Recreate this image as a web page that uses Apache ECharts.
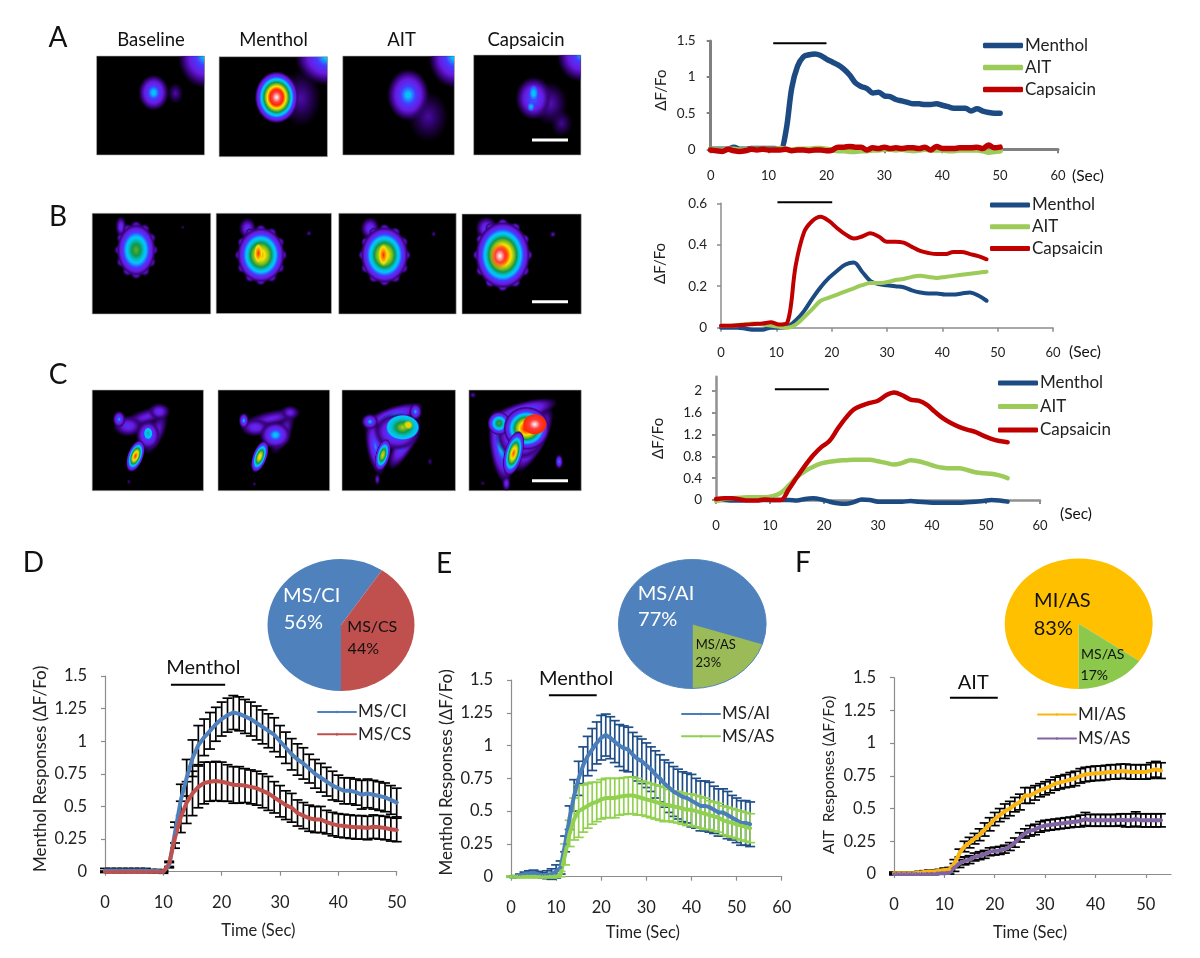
<!DOCTYPE html>
<html><head><meta charset="utf-8">
<style>html,body{margin:0;padding:0;background:#fff}#c{width:1200px;height:958px}</style>
<script src="https://cdn.jsdelivr.net/npm/echarts@6/dist/echarts.min.js"></script>
</head><body><div id="c"></div>
<script>
// ---------- panel A ----------
const aTimes=[0,1,2,3,4,5,6,7,8,9,10,11,12,13,14,15,16,17,18,19,20,21,22,23,24,25,26,27,28,29,30,31,32,33,34,35,36,37,38,39,40,41,42,43,44,45,46,47,48,49,50];
const aMenthol=[0,0,0,0,.03,0,0,.01,.01,.01,.01,.01,0,.25,.85,1.15,1.28,1.31,1.32,1.3,1.25,1.21,1.17,1.11,1.03,.92,.87,.84,.78,.79,.74,.73,.69,.67,.65,.63,.63,.62,.62,.63,.61,.59,.57,.57,.57,.53,.56,.53,.51,.5,.5];
const aAit=[0,-.01,-.01,0,0,-.01,-.01,0,0,0,0,0,.01,0,-.01,0,0,0,.01,.01,0,-.01,-.02,-.02,-.03,-.03,-.02,-.02,-.01,-.01,0,0,-.01,0,-.01,-.02,-.01,0,-.01,-.01,-.01,-.02,-.02,-.01,-.01,-.01,-.01,-.02,-.04,-.03,-.02];
const aCaps=[-.01,-.02,-.03,0,-.02,-.03,-.02,0,-.01,0,-.01,-.01,-.01,0,-.02,-.01,-.01,-.02,-.01,-.01,-.02,-.01,.03,.03,.04,.03,.03,-.01,.02,.01,.03,.01,.02,.01,.02,.02,.01,.03,-.01,.04,.01,.01,.01,.02,.02,.02,.03,.01,.06,.02,.03];
// ---------- panel B ----------
const bTimes=[0,1.5,3,4.5,6,7.5,9,10.5,12,13.5,15,16.5,18,19.5,21,22.5,24,25.5,27,28.5,30,31.5,33,34.5,36,37.5,39,40.5,42,43.5,45,46.5,48];
const bMenthol=[0,0,0,-.005,-.01,-.01,0,0,.005,.035,.08,.14,.195,.24,.275,.305,.315,.27,.225,.21,.205,.2,.195,.18,.17,.165,.165,.16,.16,.165,.17,.155,.13];
const bAit=[.01,.01,.012,.018,.02,.015,.01,.005,0,.015,.05,.09,.13,.145,.16,.175,.19,.205,.215,.215,.22,.23,.235,.245,.25,.245,.24,.245,.25,.255,.26,.265,.27];
const bCaps=[.01,.01,.012,.014,.018,.02,.026,.015,.025,.3,.46,.515,.535,.515,.48,.45,.43,.44,.455,.44,.415,.415,.41,.39,.37,.36,.355,.355,.365,.365,.355,.345,.33];
// ---------- panel C ----------
const cTimes=[0,1.5,3,4.5,6,7.5,9,10.5,12,13.5,15,16.5,18,19.5,21,22.5,24,25.5,27,28.5,30,31.5,33,34.5,36,37.5,39,40.5,42,43.5,45,46.5,48,49.5,51,52.5,54];
const cMenthol=[0,0,-.01,-.01,0,0,0,0,0,0,-.01,.02,.03,.01,-.03,-.06,-.07,-.04,.01,0,-.03,-.03,-.03,-.03,-.02,-.03,-.04,-.05,-.05,-.05,-.05,-.04,-.03,-.02,0,-.01,-.03];
const cAit=[-.02,.02,.03,.04,.05,.05,.05,.07,.13,.27,.42,.53,.61,.67,.7,.72,.73,.74,.74,.74,.71,.68,.65,.68,.73,.71,.67,.62,.59,.58,.58,.55,.51,.49,.48,.45,.4];
const cCaps=[.02,.03,.03,.01,-.01,-.01,.01,0,0,.2,.42,.63,.82,.97,1.08,1.3,1.5,1.66,1.73,1.78,1.82,1.92,1.97,1.92,1.84,1.82,1.75,1.62,1.5,1.41,1.34,1.29,1.25,1.18,1.12,1.08,1.06];
// ---------- panel D ----------
const dCi=[.01,.01,.01,.01,.01,.01,.01,.01,.005,.005,0,.05,.3,.55,.72,.87,.97,1.03,1.08,1.13,1.17,1.2,1.22,1.21,1.19,1.17,1.14,1.11,1.08,1.05,1,.95,.9,.86,.83,.79,.75,.72,.69,.66,.64,.62,.62,.61,.59,.6,.59,.58,.57,.55,.53];
const dCiErr=[.015,.015,.015,.015,.015,.015,.015,.015,.012,.012,.012,.02,.08,.12,.14,.14,.15,.14,.14,.13,.13,.13,.13,.13,.13,.13,.13,.13,.13,.13,.12,.12,.12,.12,.12,.11,.11,.11,.11,.11,.1,.1,.1,.1,.11,.11,.11,.11,.11,.11,.11];
const dCs=[0,0,0,0,0,0,0,0,0,0,0,.06,.26,.42,.53,.6,.65,.68,.69,.695,.69,.68,.665,.665,.66,.65,.64,.62,.6,.57,.54,.51,.49,.45,.43,.41,.4,.4,.38,.365,.355,.35,.345,.34,.34,.335,.345,.34,.335,.325,.32];
const dCsErr=[.005,.005,.005,.005,.005,.005,.005,.005,.005,.005,.005,.02,.08,.12,.16,.17,.16,.16,.15,.15,.15,.14,.14,.14,.13,.13,.13,.13,.13,.12,.12,.11,.11,.1,.1,.1,.1,.1,.09,.09,.09,.09,.09,.09,.09,.09,.09,.09,.09,.09,.09];
// ---------- panel E ----------
const eAi=[0,0,.01,.02,.025,.03,.02,.01,.015,.02,.04,.07,.25,.45,.62,.75,.85,.92,.97,1.02,1.06,1.08,1.06,1.03,1,.98,.97,.93,.9,.88,.85,.82,.78,.75,.71,.68,.65,.63,.61,.6,.58,.56,.54,.54,.53,.51,.49,.49,.47,.45,.43,.41,.41,.4];
const eAiErr=[0,.005,.01,.015,.02,.02,.02,.02,.03,.04,.05,.05,.06,.09,.12,.13,.14,.15,.16,.16,.17,.16,.16,.16,.16,.17,.17,.17,.17,.17,.17,.17,.18,.18,.18,.19,.19,.19,.19,.19,.2,.19,.19,.19,.19,.18,.18,.18,.18,.17,.17,.17,.17,.17];
const eAs=[0,0,0,0,0,0,0,0,0,0,0,.02,.17,.33,.44,.5,.52,.54,.56,.57,.59,.6,.6,.6,.61,.615,.62,.62,.61,.6,.59,.58,.57,.56,.55,.545,.535,.53,.52,.51,.51,.5,.49,.48,.47,.46,.45,.43,.42,.41,.4,.39,.38,.37];
const eAsErr=[.005,.005,.005,.005,.005,.005,.005,.005,.005,.005,.005,.02,.08,.1,.16,.2,.18,.17,.16,.15,.15,.15,.15,.15,.14,.14,.14,.14,.14,.13,.13,.13,.13,.13,.13,.12,.12,.12,.12,.12,.12,.12,.12,.12,.11,.11,.11,.11,.11,.11,.11,.11,.11,.11];
// ---------- panel F ----------
const fMi=[.005,.005,.005,.005,.005,.01,.015,.02,.02,.025,.03,.035,.08,.16,.21,.24,.27,.3,.34,.38,.42,.45,.48,.5,.53,.55,.6,.6,.62,.64,.655,.67,.69,.7,.71,.72,.73,.75,.76,.765,.77,.77,.775,.78,.78,.785,.785,.78,.78,.78,.78,.79,.8,.79];
const fMiErr=[.01,.01,.01,.01,.01,.01,.01,.01,.01,.01,.015,.015,.03,.03,.04,.04,.04,.045,.05,.05,.05,.05,.055,.055,.055,.06,.06,.06,.055,.05,.05,.05,.05,.05,.05,.055,.055,.055,.055,.055,.055,.055,.055,.055,.055,.055,.055,.055,.055,.055,.055,.06,.06,.06];
const fMs=[0,0,0,0,0,0,0,0,0,.005,.005,.01,.05,.08,.1,.11,.13,.14,.15,.17,.175,.18,.19,.21,.24,.28,.31,.33,.34,.36,.37,.375,.38,.385,.39,.395,.4,.405,.42,.41,.41,.41,.41,.41,.41,.415,.41,.41,.42,.41,.41,.41,.41,.41];
const fMsErr=[.005,.005,.005,.005,.005,.005,.005,.005,.005,.005,.005,.01,.03,.03,.03,.03,.03,.03,.03,.03,.03,.03,.03,.03,.035,.035,.035,.04,.04,.04,.04,.04,.04,.04,.04,.04,.04,.045,.05,.045,.045,.045,.045,.045,.045,.045,.05,.05,.055,.05,.05,.05,.05,.05];
// ---------- pies: slice shares as drawn in the picture (printed labels are kept as text) ----------
const dPie=[59.4,40.6], ePie=[80,20], fPie=[84.7,15.3];
// ---------- stimulus bars [from,to,level] ----------
const stimA=[10.8,20,1.468], stimB=[10.2,20.1,.605], stimC=[10.9,20.9,2.03], stimD=[11.3,20.6,1.433], stimE=[8.4,19,1.383], stimF=[11.1,20.6,1.347];

const FONT='Lato';
const seq=n=>Array.from({length:n},(_,i)=>i);
const zip=(t,v)=>v.map((y,i)=>[t[i],y]);

const grids=[],xAxes=[],yAxes=[],series=[],legends=[];
function panel(o){
  const i=grids.length;
  grids.push({left:o.l,top:o.t,width:o.r-o.l,height:o.b-o.t,containLabel:false});
  const big=o.big;
  const line={show:true,onZero:false,lineStyle:{color:o.axisColor||'#8c8c8c',width:o.axisW||1.2}};
  const tick={show:true,length:4,lineStyle:{color:o.axisColor||'#8c8c8c',width:o.axisW?Math.min(o.axisW,2):1.2}};
  const x={gridIndex:i,type:'value',min:0,max:o.xMax,interval:10,axisLine:line,splitLine:{show:false},
    axisTick:Object.assign({},tick,o.xVals?{customValues:o.xVals}:{}),
    axisLabel:Object.assign({fontFamily:FONT,fontSize:big?16.5:13,color:'#222',margin:o.xMargin},o.xVals?{customValues:o.xVals}:{})};
  if(o.xName){Object.assign(x,{name:o.xName,nameLocation:'middle',nameGap:o.xGap,nameTextStyle:{fontFamily:FONT,fontSize:16.5,color:'#222',padding:o.xPad}});}
  const y={gridIndex:i,type:'value',min:0,max:o.yMax,interval:o.yInt,axisLine:line,splitLine:{show:false},
    axisTick:Object.assign({},tick,o.yVals?{customValues:o.yVals}:{}),
    axisLabel:Object.assign({fontFamily:FONT,fontSize:big?16.5:13.5,color:'#222',margin:o.yMargin},o.yVals?{customValues:o.yVals}:{}),
    name:o.yName,nameLocation:'middle',nameGap:o.yGap,nameTextStyle:{fontFamily:FONT,fontSize:o.ySize||15,color:'#222',padding:o.yPad}};
  xAxes.push(x);yAxes.push(y);
  return i;
}
function addLine(i,name,t,v,color,w,sym){
  series.push({type:'line',name,xAxisIndex:i,yAxisIndex:i,data:zip(t,v),smooth:sym?false:.35,clip:false,
    symbol:sym?'diamond':'none',symbolSize:sym?4:0,showSymbol:!!sym,
    lineStyle:{color,width:w,cap:'round',join:'round'},itemStyle:{color},z:4,silent:true});
}
function addStim(i,s){
  series.push({type:'line',xAxisIndex:i,yAxisIndex:i,data:[[s[0],s[2]],[s[1],s[2]]],symbol:'none',clip:false,silent:true,
    lineStyle:{color:'#000',width:2},z:5});
}
function addErr(i,t,v,e,color){
  series.push({type:'custom',xAxisIndex:i,yAxisIndex:i,clip:false,silent:true,z:3,
    data:v.map((y,k)=>[t[k],y-e[k],y+e[k]]),encode:{x:0,y:[1,2]},
    renderItem(p,api){
      const lo=api.coord([api.value(0),api.value(1)]),hi=api.coord([api.value(0),api.value(2)]),c=5;
      const st={stroke:color,lineWidth:1.7,fill:null};
      return {type:'group',children:[
        {type:'line',shape:{x1:lo[0],y1:lo[1],x2:hi[0],y2:hi[1]},style:st},
        {type:'line',shape:{x1:lo[0]-c,y1:lo[1],x2:lo[0]+c,y2:lo[1]},style:st},
        {type:'line',shape:{x1:hi[0]-c,y1:hi[1],x2:hi[0]+c,y2:hi[1]},style:st}]};
    }});
}
function addLegend(left,top,w,gap,names,cols,h){
  legends.push({left,top,padding:0,orient:'vertical',itemWidth:w,itemHeight:h,itemGap:gap,selectedMode:false,icon:h>=5?'roundRect':undefined,
    textStyle:{fontFamily:FONT,fontSize:17,color:'#222',padding:[0,0,0,-3]},
    data:names.map((n,k)=>({name:n,itemStyle:{color:cols[k]},lineStyle:{color:cols[k]}}))});
}
function addPie(cx,cy,rx,ry,vals,cols,edge){
  const total=vals.reduce((a,b)=>a+b,0);
  series.push({type:'custom',coordinateSystem:'none',silent:true,z:2,data:vals.map(v=>[v]),
    renderItem(p,api){
      let acc=0;for(let k=0;k<p.dataIndex;k++)acc+=vals[k];
      const a0=Math.PI/2+acc/total*2*Math.PI,a1=a0+api.value(0)/total*2*Math.PI;
      return {type:'sector',x:cx,y:cy,scaleX:1,scaleY:ry/rx,
        shape:{cx:0,cy:0,r:rx,r0:0,startAngle:a0,endAngle:a1,clockwise:true},
        style:{fill:cols[p.dataIndex],stroke:edge||null,lineWidth:edge?1:0}};
    }});
}

const BLUE='#1c4a82',GRN='#9ccb5a',RED='#c00000',TRIO=['Menthol','AIT','Capsaicin'],TC=[BLUE,GRN,RED];
// A
let g=panel({l:710.7,r:1058,t:41,b:149.3,xMax:60,yMax:1.5,yInt:.5,axisW:3,axisColor:'#808080',xMargin:20,yMargin:15,yName:'ΔF/Fo',yGap:42,yPad:[0,0,0,10]});
addLine(g,'Menthol',aTimes,aMenthol,BLUE,5.5);addLine(g,'AIT',aTimes,aAit,GRN,5.5);addLine(g,'Capsaicin',aTimes,aCaps,RED,5.5);addStim(g,stimA);
addLegend(983,37,40,5,TRIO,TC,5.5);
// B
g=panel({l:721,r:1053,t:203.3,b:327.7,xMax:60,yMax:.6,yInt:.2,axisW:1.5,axisColor:'#8c8c8c',xMargin:19,yMargin:14,yName:'ΔF/Fo',yGap:53,yPad:[0,0,0,4]});
addLine(g,'Menthol',bTimes,bMenthol,BLUE,4);addLine(g,'AIT',bTimes,bAit,GRN,4);addLine(g,'Capsaicin',bTimes,bCaps,RED,4);addStim(g,stimB);
addLegend(990,196.5,40,4.7,TRIO,TC,5);
// C
g=panel({l:716,r:1040,t:376.7,b:500,xMax:60,yMax:2.26,yInt:.4,yVals:[0,.4,.8,1.2,1.6,2],axisW:2.5,axisColor:'#909090',xMargin:19,yMargin:14,yName:'ΔF/Fo',yGap:50});
addLine(g,'Menthol',cTimes,cMenthol,BLUE,4.5);addLine(g,'AIT',cTimes,cAit,GRN,4.5);addLine(g,'Capsaicin',cTimes,cCaps,RED,4.5);addStim(g,stimC);
addLegend(998,374.5,40,6.5,TRIO,TC,5);
// D
g=panel({big:1,l:105,r:396.7,t:676,b:871.7,xMax:50,yMax:1.5,yInt:.25,xMargin:22,yMargin:18,xName:'Time (Sec)',xGap:50,xPad:[0,0,0,15],yName:'Menthol Responses (ΔF/Fo)',ySize:17,yGap:56,yPad:[0,0,0,10]});
const t51=seq(51),t54=seq(54);
addErr(g,t51,dCi,dCiErr,'#000');addErr(g,t51,dCs,dCsErr,'#000');
addLine(g,'MS/CI',t51,dCi,'#4f81bd',4,1);addLine(g,'MS/CS',t51,dCs,'#c0504d',4,1);addStim(g,stimD);
addLegend(317,703.5,38,5.3,['MS/CI','MS/CS'],['#4f81bd','#c0504d'],4);
// E
g=panel({big:1,l:511,r:781.7,t:680,b:876.7,xMax:60,yMax:1.5,yInt:.25,xMargin:22,yMargin:18,xName:'Time (Sec)',xGap:47,xPad:[0,7,0,0],yName:'Menthol Responses (ΔF/Fo)',ySize:17,yGap:56,yPad:[0,0,0,12]});
addErr(g,t54,eAi,eAiErr,'#1f4e87');addErr(g,t54,eAs,eAsErr,'#92d050');
addLine(g,'MS/AI',t54,eAi,'#4a7ebb',4,1);addLine(g,'MS/AS',t54,eAs,'#92d050',4,1);addStim(g,stimE);
addLegend(681,705.5,38,5.3,['MS/AI','MS/AS'],['#4a7ebb','#92d050'],4);
// F
g=panel({big:1,l:894,r:1171,t:677.7,b:874,xMax:55,yMax:1.5,yInt:.25,xVals:[0,10,20,30,40,50],xMargin:22,yMargin:18,xName:'Time (Sec)',xGap:50,xPad:[0,5,0,0],yName:'AIT  Responses (ΔF/Fo)',ySize:15.5,yGap:57,yPad:[0,0,0,2]});
addErr(g,t54,fMi,fMiErr,'#000');addErr(g,t54,fMs,fMsErr,'#000');
addLine(g,'MI/AS',t54,fMi,'#fbb512',4,1);addLine(g,'MS/AS',t54,fMs,'#8064a2',4,1);addStim(g,stimF);
addLegend(1037,706,38,7,['MI/AS','MS/AS'],['#fbb512','#8064a2'],4);
// pies
addPie(341,625,73.5,66,dPie,['#4f81bd','#c0504d']);
addPie(692.3,624,73.8,64.5,ePie,['#4f81bd','#9bbb59'],'#4f81bd');
addPie(1078.7,623.7,74,65.3,fPie,['#ffc000','#8bc84b']);

// ---------- graphic: text annotations and fluorescence micrographs ----------
const gfx=[];
function txt(s,x,y,size,color){gfx.push({type:'text',x,y,z:20,silent:true,style:{text:s,fontFamily:FONT,fontSize:size,fill:color||'#111',align:'center',verticalAlign:'middle'}});}
[['A',58,38],['B',58,216.7],['C',58,375],['D',33.3,563],['E',444,564],['F',803,563]].forEach(a=>txt(a[0],a[1],a[2],28,'#111'));
[['Baseline',151,40],['Menthol',273.6,40],['AIT',401.6,40],['Capsaicin',526,40]].forEach(a=>txt(a[0],a[1],a[2],18.5));
txt('(Sec)',1088,176,15.5);txt('(Sec)',1085,352,15.5);txt('(Sec)',1076,514,15.5);
txt('Menthol',203.3,667.3,20);txt('Menthol',576,678.3,20);txt('AIT',973.3,682.7,20);
txt('MS/CI',311.7,596,20,'#fff');txt('56%',303.3,622.7,20,'#fff');txt('MS/CS',372.3,627.3,16);txt('44%',363.3,649.3,16);
txt('MS/AI',666,593.3,20,'#fff');txt('77%',657.7,620,20,'#fff');txt('MS/AS',715.7,645,13);txt('23%',708.3,663.3,13);
txt('MI/AS',1062.3,601,20);txt('83%',1053.3,628.3,20);txt('MS/AS',1102.7,654.3,14);txt('17%',1094.3,675,14);

const LUT=[[0,[50,0,110]],[.1,[55,5,125]],[.2,[105,25,225]],[.33,[70,60,255]],[.45,[0,200,255]],[.52,[0,190,210]],[.6,[20,150,70]],[.68,[130,190,30]],[.76,[250,230,0]],[.86,[255,40,0]],[.93,[255,60,60]],[1,[255,255,255]]];
function lutAt(v){for(let k=1;k<LUT.length;k++){if(v<=LUT[k][0]){const a=LUT[k-1],b=LUT[k],f=(v-a[0])/(b[0]-a[0]);return a[1].map((c,j)=>Math.round(c+(b[1][j]-c)*f));}}return LUT[LUT.length-1][1];}
function stops(p,vmin,linear){
  const exp=(linear||vmin>0||p<.56)?1:.6;
  const s=[{offset:0,color:`rgb(${lutAt(p)})`}];
  LUT.filter(e=>e[0]<p&&e[0]>vmin).reverse().forEach(e=>s.push({offset:Math.pow(1-(e[0]-vmin)/(p-vmin),exp),color:`rgb(${e[1]})`}));
  s.push({offset:1,color:`rgba(${lutAt(vmin)},0)`});
  return s;
}
const ZX=zx=>30+zx/2.75;
function img(zx0,zx1,y0,y1){gfx.push({type:'rect',shape:{x:ZX(zx0),y:y0,width:(zx1-zx0)/2.75,height:y1-y0},style:{fill:'#000',stroke:'#b5b5b5',lineWidth:.6},z:10,silent:true});}
function blob(oy,zx,zy,rx,ry,p,vmin,rot){
  gfx.push({type:'circle',x:ZX(zx),y:oy+zy/3,scaleX:rx/2.75/20,scaleY:ry/3/20,rotation:(rot||0)*Math.PI/180,z:11,silent:true,shape:{cx:0,cy:0,r:20},
    style:{fill:{type:'radial',x:.5,y:.5,r:.5,colorStops:stops(p,vmin||0)}}});
}
// small lobes round a cell's rim, giving the bumpy edge of the pixelated image
function rim(oy,zx,zy,rx,ry,p){
  for(let k=0;k<12;k++){const a=k/12*2*Math.PI;blob(oy,zx+Math.cos(a)*rx,zy+Math.sin(a)*ry,15,16,p);}
}
function corner(oy,zx,zy,rx,ry,p){
  gfx.push({type:'sector',x:ZX(zx),y:oy+zy/3,scaleX:rx/2.75/20,scaleY:ry/3/20,z:11,silent:true,shape:{cx:0,cy:0,r:20,r0:0,startAngle:Math.PI/2,endAngle:Math.PI},
    style:{fill:{type:'radial',global:true,x:0,y:0,r:20,colorStops:stops(p,0,true)}}});
}
function bar(y){gfx.push({type:'rect',shape:{x:532,y:y-1.5,width:36,height:3},style:{fill:'#fff'},z:12,silent:true});}
const RA=10,RB=190;
// row A
img(183,480,56,155);img(520,818,56.7,156.7);img(860,1167,56,155);img(1220,1515,55,155);
blob(RA,400,250,22,32,.14);blob(RA,340,248,42,54,.5);corner(RA,479,139,72,95,.46);
blob(RA,745,265,55,85,.14);blob(RA,678,262,60,78,1);corner(RA,817,141,88,85,.48);
blob(RA,1095,320,55,75,.13);blob(RA,1040,255,58,78,.5);blob(RA,1040,255,18,22,.5,.33);corner(RA,1166,139,70,95,.48);
blob(RA,1430,280,48,65,.16);blob(RA,1462,340,30,40,.12);blob(RA,1385,265,50,65,.42);blob(RA,1385,250,14,26,.5,.3);blob(RA,1378,290,11,15,.47,.3);corner(RA,1514,136,65,80,.42);
bar(140);
// row B
img(171,497,213.3,314);img(512,829,213.3,313.5);img(849,1172,213.3,314);img(1188,1516,214,314);
blob(RB,250,110,15,32,.3);rim(RB,292,180,46,72,.3);blob(RB,292,180,54,80,.65);blob(RB,420,112,6,7,.1);
blob(RB,598,115,24,32,.3);rim(RB,635,195,58,76,.32);blob(RB,635,195,66,84,.8);blob(RB,628,190,12,30,.86,.72);blob(RB,767,130,8,9,.14);
blob(RB,935,115,26,34,.32);rim(RB,975,195,58,78,.32);blob(RB,975,195,66,86,.79);blob(RB,972,195,14,34,.86,.72);blob(RB,1110,132,7,9,.14);
blob(RB,1255,115,30,36,.33);rim(RB,1300,195,68,94,.36);blob(RB,1300,195,76,102,.88);blob(RB,1292,198,26,38,1,.86);blob(RB,1438,133,9,10,.18);
bar(301.7);
// row C
img(171,477,390,490.7);img(517,824,390,490.7);img(858,1170,390,490.7);img(1207,1516,390,490.7);
// C1
blob(RB,320,680,70,24,.24,0,18);blob(RB,345,730,24,70,.26,0,-25);blob(RB,355,665,30,26,.3);blob(RB,270,708,42,32,.3);blob(RB,245,688,18,26,.44);blob(RB,325,735,34,46,.47);blob(RB,325,730,12,18,.56,.42);blob(RB,290,798,22,50,.86,0,-20);blob(RB,272,875,6,8,.12);
// C2
blob(RB,665,685,85,24,.24,0,12);blob(RB,695,730,22,70,.26,0,-25);blob(RB,715,668,26,22,.26);blob(RB,620,712,42,28,.3);blob(RB,588,692,14,24,.48);blob(RB,675,735,44,42,.5);blob(RB,632,800,20,50,.78,0,-20);blob(RB,617,882,6,7,.12);
// C3
blob(RB,1000,675,85,26,.42,0,18);blob(RB,1030,760,26,90,.42,0,-30);blob(RB,950,770,26,90,.4,0,10);blob(RB,1060,665,18,26,.46);blob(RB,1010,725,66,58,.5);blob(RB,935,695,24,24,.47);blob(RB,1025,712,46,38,.72,.42);blob(RB,1040,705,14,14,.8,.65);blob(RB,970,795,20,50,.74,0,-15);blob(RB,955,868,8,18,.22);blob(RB,1100,815,7,12,.12);
// C4
blob(RB,1355,665,100,30,.45,0,16);blob(RB,1385,750,32,110,.5,0,-28);blob(RB,1295,770,32,115,.5,0,8);blob(RB,1350,740,70,70,.55);blob(RB,1290,700,32,36,.64);blob(RB,1365,715,64,66,.88);blob(RB,1388,703,34,32,1,.84);blob(RB,1330,790,26,70,.84,0,-15);blob(RB,1310,880,12,24,.28);blob(RB,1455,815,11,22,.42);blob(RB,1218,615,10,10,.16);blob(RB,1245,880,8,8,.1);
bar(480.7);

echarts.init(document.getElementById('c'),null,{renderer:'canvas'}).setOption({
  animation:false,backgroundColor:'#fff',textStyle:{fontFamily:FONT},
  grid:grids,xAxis:xAxes,yAxis:yAxes,legend:legends,series,graphic:{elements:gfx}
});
</script></body></html>
